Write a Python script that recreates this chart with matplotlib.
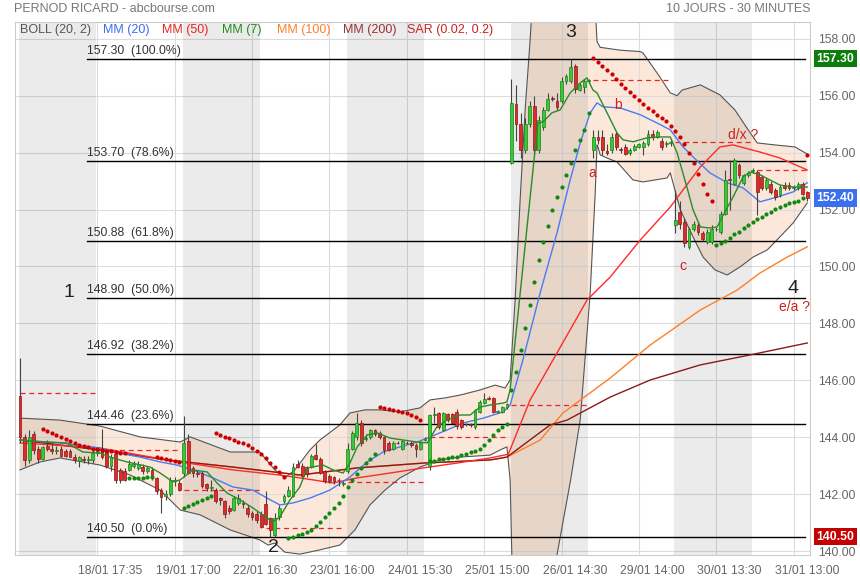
import numpy as np
import matplotlib.pyplot as plt
import matplotlib.transforms as mtransforms

plt.rcParams['font.family'] = ['Liberation Sans', 'DejaVu Sans']

# -------- bougies 30 minutes (18/01 -> 31/01) --------
opens = [145.45, 144.00, 143.20, 144.10, 143.60, 143.25, 143.70, 143.60, 143.50, 143.60, 143.50, 143.50, 143.30, 143.15, 143.25, 143.20, 143.20, 143.45,
         143.60, 143.55, 143.00, 143.40, 142.85, 142.80, 142.85, 143.00, 142.90, 142.95, 142.80, 142.85, 142.55, 142.15, 141.95, 142.00, 142.45, 142.40,
         142.75, 143.85, 142.90, 142.75, 142.75, 142.35, 142.20, 142.15, 141.85, 141.75, 141.50, 141.45, 141.70, 141.70, 141.50, 141.35, 141.30, 141.30,
         141.65, 141.15, 140.55, 141.20, 141.75, 141.95, 141.95, 143.05, 143.00, 142.95, 142.95, 143.38, 143.25, 142.80, 142.65, 142.60, 142.50, 142.35,
         142.80, 143.60, 144.00, 144.50, 143.95, 144.00, 144.25, 144.15, 144.00, 143.78, 143.60, 143.80, 143.60, 143.80, 143.78, 143.72, 143.60, 143.90,
         143.00, 144.78, 144.85, 144.25, 144.80, 144.80, 144.90, 144.60, 144.45, 144.43, 144.37, 144.90, 145.20, 145.36, 145.36, 144.90, 144.90, 145.05,
         153.65, 155.70, 155.00, 154.10, 155.00, 155.65, 154.08, 154.90, 155.50, 155.90, 155.80, 155.83, 156.50, 156.50, 157.06, 156.20, 156.30, 156.50,
         154.08, 154.55, 154.55, 154.05, 154.08, 154.66, 154.10, 154.20, 153.98, 154.10, 154.20, 154.20, 154.30, 154.66, 154.55, 154.40, 154.30, 154.35,
         151.45, 151.90, 151.57, 150.70, 151.33, 151.45, 151.16, 150.87, 150.87, 151.30, 151.22, 151.86, 153.09, 152.91, 153.56, 152.92, 153.20, 153.35,
         153.32, 153.15, 152.74, 152.91, 152.68, 152.50, 152.85, 152.85, 152.75, 152.74, 152.91, 152.60]
highs = [146.80, 144.10, 144.25, 144.20, 143.70, 143.70, 143.90, 143.80, 143.70, 143.70, 143.60, 143.60, 143.40, 143.35, 143.35, 143.35, 143.55, 143.60,
         144.30, 143.60, 143.40, 143.50, 142.90, 142.90, 143.20, 143.15, 143.15, 143.05, 143.00, 142.95, 142.60, 142.20, 142.15, 142.60, 142.60, 142.50,
         144.75, 144.10, 143.00, 142.85, 142.80, 142.40, 142.50, 142.20, 141.90, 141.80, 141.60, 141.95, 142.00, 141.80, 141.60, 141.40, 141.40, 141.40,
         142.10, 141.20, 141.35, 141.60, 142.00, 142.30, 143.10, 143.20, 143.10, 143.00, 143.40, 143.75, 143.30, 142.85, 142.70, 142.65, 142.55, 142.45,
         143.80, 144.20, 144.85, 144.60, 144.10, 144.30, 144.30, 144.20, 144.05, 143.85, 143.85, 143.85, 143.90, 143.85, 143.85, 143.80, 143.85, 144.00,
         144.80, 145.05, 144.90, 144.90, 144.85, 144.85, 145.00, 144.65, 144.50, 144.50, 145.00, 145.30, 145.55, 145.45, 145.40, 144.95, 145.10, 145.20,
         156.60, 156.36, 155.40, 155.20, 155.80, 156.00, 155.30, 155.60, 156.10, 156.00, 156.10, 156.65, 156.75, 157.30, 157.10, 156.45, 156.60, 156.60,
         154.80, 154.80, 154.80, 154.30, 154.70, 154.75, 154.20, 154.30, 154.15, 154.30, 154.35, 154.40, 154.80, 154.80, 154.80, 154.50, 154.40, 154.45,
         152.68, 152.30, 151.70, 151.40, 151.60, 151.55, 151.25, 151.30, 151.45, 151.40, 151.95, 153.40, 153.73, 153.80, 153.65, 153.25, 153.35, 153.45,
         153.38, 153.20, 153.10, 153.00, 152.75, 152.85, 152.95, 152.95, 152.85, 152.95, 152.95, 152.65]
lows = [143.80, 143.00, 143.10, 143.40, 143.10, 143.20, 143.50, 143.40, 143.40, 143.30, 143.30, 143.30, 143.10, 142.95, 143.10, 143.05, 143.10, 143.35,
        143.25, 142.90, 142.80, 142.40, 142.40, 142.45, 142.80, 142.90, 142.85, 142.70, 142.75, 142.50, 142.00, 141.35, 141.80, 141.95, 142.30, 142.10,
        142.60, 142.70, 142.60, 142.60, 142.20, 142.10, 142.10, 141.70, 141.60, 141.15, 141.30, 141.40, 141.60, 141.50, 141.20, 141.10, 141.00, 140.80,
        140.90, 140.50, 140.50, 141.10, 141.70, 141.90, 141.90, 142.90, 142.60, 142.60, 142.90, 143.20, 142.70, 142.40, 142.40, 142.35, 142.30, 142.30,
        142.75, 143.55, 143.90, 143.70, 143.85, 143.95, 144.05, 143.95, 143.40, 143.50, 143.55, 143.75, 143.55, 143.75, 143.65, 143.30, 143.55, 143.85,
        142.85, 144.50, 144.30, 144.20, 144.55, 144.45, 144.30, 144.30, 144.40, 144.35, 144.30, 144.85, 145.15, 145.30, 144.85, 144.85, 144.85, 145.00,
        153.60, 154.40, 153.80, 154.00, 154.90, 153.90, 154.00, 154.80, 155.45, 155.80, 155.50, 155.75, 156.40, 156.45, 156.10, 156.15, 156.10, 156.45,
        153.80, 154.30, 153.90, 153.90, 154.00, 154.10, 154.00, 153.90, 153.90, 154.05, 154.15, 153.90, 154.25, 154.45, 154.50, 154.10, 154.20, 154.25,
        151.16, 151.30, 150.70, 150.60, 151.25, 151.10, 150.90, 150.80, 150.80, 151.25, 151.15, 151.80, 151.98, 152.85, 153.10, 152.85, 153.15, 153.30,
        151.80, 152.70, 152.70, 152.55, 152.35, 152.45, 152.70, 152.70, 152.70, 152.70, 152.50, 152.30]
closes = [144.00, 143.20, 144.00, 143.55, 143.25, 143.65, 143.60, 143.50, 143.55, 143.35, 143.35, 143.30, 143.20, 143.30, 143.20, 143.25, 143.45, 143.50,
          143.30, 143.00, 143.30, 142.50, 142.50, 142.50, 143.05, 143.05, 143.05, 142.80, 142.90, 142.60, 142.10, 141.90, 142.00, 142.50, 142.45, 142.15,
          143.80, 142.75, 142.75, 142.70, 142.30, 142.20, 142.25, 141.75, 141.80, 141.30, 141.40, 141.85, 141.85, 141.65, 141.30, 141.20, 141.10, 140.85,
          140.95, 140.75, 141.15, 141.50, 141.95, 142.15, 142.95, 142.95, 142.65, 142.70, 143.35, 143.25, 142.75, 142.45, 142.45, 142.45, 142.48, 142.40,
          143.60, 144.15, 144.50, 143.80, 143.97, 144.25, 144.10, 144.00, 143.55, 143.55, 143.80, 143.78, 143.85, 143.78, 143.72, 143.60, 143.80, 143.95,
          144.78, 144.80, 144.35, 144.85, 144.60, 144.50, 144.40, 144.37, 144.45, 144.42, 144.95, 145.25, 145.35, 145.34, 144.90, 144.90, 145.07, 145.15,
          155.74, 155.00, 154.08, 155.00, 155.65, 154.08, 155.13, 155.50, 155.90, 155.88, 155.60, 156.53, 156.70, 157.00, 156.24, 156.38, 156.50, 156.55,
          154.55, 154.43, 154.08, 154.00, 154.55, 154.20, 154.08, 153.96, 154.10, 154.25, 154.30, 154.35, 154.66, 154.55, 154.72, 154.20, 154.30, 154.37,
          151.63, 151.50, 150.81, 151.33, 151.50, 151.21, 150.98, 151.22, 151.33, 151.33, 151.86, 153.03, 153.03, 153.73, 153.20, 153.20, 153.30, 153.38,
          152.62, 152.74, 153.03, 152.62, 152.45, 152.80, 152.74, 152.74, 152.78, 152.91, 152.56, 152.40]

# jours (indice de la 1re et de la derniere bougie) et cloture de la veille
day_first = [0, 18, 36, 54, 72, 90, 108, 126, 144, 162]
day_last = [17, 35, 53, 71, 89, 107, 125, 143, 161, 173]
prev_close = [145.55, 143.55, 142.14, 140.81, 142.43, 144.01, 145.13, 156.56, 154.38, 153.39]
shaded_days = [0, 2, 4, 6, 8]

tick_bars = [17, 34, 51, 68, 85, 102, 119, 136, 153, 170]
tick_labels = ['18/01 17:35', '19/01 17:00', '22/01 16:30', '23/01 16:00', '24/01 15:30',
               '25/01 15:00', '26/01 14:30', '29/01 14:00', '30/01 13:30', '31/01 13:00']

# -------- Bollinger (20, 2) --------
bb_up_x = [0, 8.8, 17.6, 26.4, 35.2, 37.4, 46.2, 52.7, 56.0, 58.2, 60.4, 63.7, 65.9, 70.3, 72.5, 75.8, 79.1, 83.5, 87.9, 90.1,
           93.4, 96.7, 101.1, 104.4, 106.6, 107.7, 108.8, 109.9, 111.0, 112.1, 113.2, 116.0, 120.0, 124.0, 126.0, 126.8, 127.5,
           131.9, 136.3, 136.9, 140.0, 142.9, 144.4, 145.5, 149.5, 153.8, 157.1, 159.3, 162.0, 165.9, 170.3, 173.0]
bb_up_y = [144.67, 144.60, 144.39, 144.01, 143.83, 144.01, 143.48, 143.48, 142.85, 142.57, 142.85, 143.55, 143.90, 144.43, 144.85,
           144.96, 144.96, 144.89, 145.03, 145.31, 145.38, 145.48, 145.66, 145.83, 145.73, 146.01, 148.82, 152.34, 155.50, 157.96,
           160.80, 163.50, 164.50, 163.00, 160.50, 157.90, 157.70, 157.60, 157.55, 157.50, 156.80, 156.10, 156.00, 156.20, 156.38,
           156.03, 155.50, 154.97, 154.34, 154.27, 154.20, 153.95]
bb_lo_x = [0, 4.4, 8.8, 17.6, 24.2, 30.8, 35.2, 39.6, 46.2, 52.7, 54.5, 56.0, 58.2, 61.5, 65.9, 70.3, 73.6, 76.9, 80.2, 83.5,
           87.9, 92.3, 96.7, 103.3, 105.5, 107.0, 107.7, 108.1, 110.0, 113.0, 116.0, 118.0, 121.0, 123.1, 125.3, 126.4, 126.8,
           127.0, 127.5, 129.0, 131.2, 134.7, 136.9, 142.2, 142.9, 145.1, 147.9, 150.1, 152.7, 155.4, 158.2, 161.1, 164.2, 167.0,
           169.9, 173.0]
bb_lo_y = [142.85, 143.13, 143.27, 143.02, 142.67, 142.14, 141.44, 141.27, 140.74, 140.39, 140.21, 140.28, 139.96, 139.89, 140.04,
           140.21, 140.74, 141.62, 142.14, 142.57, 142.95, 143.20, 143.30, 143.37, 143.55, 143.66, 142.50, 139.70, 136.50, 135.50,
           136.50, 139.86, 142.50, 144.60, 149.07, 152.58, 154.27, 154.20, 153.92, 153.81, 153.67, 153.04, 152.97, 153.11, 153.29,
           151.99, 151.04, 150.33, 149.88, 149.70, 149.98, 150.33, 150.58, 151.04, 151.53, 152.23]

# -------- moyennes mobiles --------
mm7_x = [0, 5.1, 10.3, 13.8, 17.6, 19.8, 23.5, 28.6, 30.8, 33.6, 35.2, 38.0, 41.1, 43.3, 45.5, 48.4, 51.2, 54.3, 55.6, 57.1,
         59.3, 61.5, 63.1, 66.6, 68.8, 71.0, 72.5, 74.1, 76.3, 78.5, 81.3, 84.2, 87.3, 89.5, 91.6, 93.8, 96.7, 98.9, 101.1, 103.3,
         106.2, 107.0, 107.7, 113.8, 114.9, 116.9, 118.7, 120.9, 123.1, 124.6, 125.9, 126.8, 129.0, 131.2, 132.5, 134.7, 137.8,
         140.7, 142.9, 144.4, 146.6, 147.9, 149.5, 151.6, 153.2, 154.3, 156.7, 158.9, 160.4, 162.6, 164.8, 167.0, 169.9, 173.0]
mm7_y = [143.90, 143.83, 143.80, 143.48, 143.44, 143.30, 143.13, 142.95, 142.74, 142.43, 142.50, 142.85, 142.78, 142.39, 142.04,
         141.79, 141.51, 141.16, 141.02, 141.20, 141.79, 142.25, 142.92, 143.02, 142.85, 142.74, 143.09, 143.66, 144.08, 144.15,
         143.97, 143.90, 143.83, 143.80, 144.36, 144.60, 144.78, 144.78, 145.06, 145.13, 145.20, 145.24, 145.66, 155.04, 155.08,
         155.40, 155.50, 156.10, 156.45, 156.63, 156.20, 156.10, 155.40, 154.69, 154.45, 154.38, 154.52, 154.55, 154.55, 153.99,
         152.76, 151.99, 151.39, 151.35, 151.39, 151.74, 152.44, 153.15, 153.32, 153.22, 153.04, 152.86, 152.79, 152.79]
mm20_x = [0, 8.8, 17.6, 20.4, 26.4, 30.8, 34.5, 38.0, 42.4, 46.8, 51.2, 54.3, 57.1, 60.0, 63.7, 68.1, 72.5, 76.3, 79.8, 83.5,
          87.3, 90.1, 93.8, 97.4, 101.8, 106.2, 107.7, 110.5, 114.3, 118.0, 120.9, 123.1, 125.3, 126.8, 128.1, 131.9, 136.3,
          140.0, 142.9, 145.7, 147.9, 151.6, 155.4, 158.9, 162.6, 166.4, 169.9, 173.0]
mm20_y = [143.90, 143.80, 143.62, 143.48, 143.30, 143.13, 143.02, 142.85, 142.57, 142.25, 142.14, 141.86, 141.62, 141.69, 141.86,
          142.14, 142.60, 143.13, 143.48, 143.66, 143.83, 144.01, 144.25, 144.50, 144.67, 144.89, 145.13, 146.71, 149.07, 151.18,
          153.04, 154.34, 155.40, 155.75, 155.61, 155.57, 155.33, 155.04, 154.80, 154.20, 153.85, 153.29, 152.94, 152.76, 152.27,
          152.44, 152.62, 152.94]
mm50_x = [0, 17.6, 32.3, 46.8, 57.1, 61.5, 68.8, 74.1, 81.3, 88.6, 96.0, 103.3, 107.3, 112.1, 118.0, 124.6, 129.7, 136.3,
          142.9, 149.5, 153.8, 156.7, 162.6, 167.0, 173.0]
mm50_y = [143.80, 143.62, 143.20, 142.85, 142.67, 142.57, 142.39, 142.57, 142.74, 142.92, 143.09, 143.27, 143.40, 145.31,
          146.96, 148.82, 149.63, 150.93, 152.09, 153.50, 154.20, 154.27, 154.02, 153.81, 153.39]
mm100_x = [0, 17.6, 32.3, 46.8, 61.5, 74.1, 88.6, 103.3, 107.0, 114.3, 119.3, 129.7, 138.5, 149.5, 157.6, 162.6, 168.6, 173.0]
mm100_y = [143.90, 143.55, 143.20, 142.95, 142.67, 142.92, 143.09, 143.20, 143.30, 143.90, 144.85, 146.08, 147.24, 148.47,
           149.17, 149.77, 150.33, 150.69]
mm200_x = [0, 17.6, 32.3, 46.8, 61.5, 74.1, 88.6, 103.3, 107.0, 116.5, 120.2, 129.7, 138.5, 149.5, 160.4, 173.0]
mm200_y = [143.90, 143.55, 143.20, 142.95, 142.67, 142.92, 143.09, 143.20, 143.30, 144.43, 144.60, 145.41, 146.01, 146.54,
           146.89, 147.31]

# -------- SAR (0.02, 0.2) --------
sar_red_x = (list(range(5, 24)) + list(range(30, 36)) + list(range(43, 59)) + list(range(79, 89))
             + list(range(126, 153)) + [173])
sar_red_y = [144.29, 144.22, 144.15, 144.08, 144.01, 143.94, 143.87, 143.80, 143.74, 143.69, 143.64, 143.60, 143.57, 143.55,
             143.52, 143.50, 143.48, 143.46, 143.45,
             143.30, 143.27, 143.23, 143.20, 143.16, 143.13,
             144.15, 144.08, 144.01, 143.97, 143.90, 143.83, 143.80, 143.73, 143.62, 143.51, 143.41, 143.27, 143.09, 142.95,
             142.78, 142.60,
             145.05, 145.03, 145.00, 144.96, 144.92, 144.89, 144.85, 144.78, 144.70, 144.60,
             157.31, 157.20, 157.05, 156.90, 156.75, 156.58, 156.42, 156.27, 156.12, 155.98, 155.84, 155.70, 155.58, 155.45,
             155.32, 155.22, 155.12, 154.95, 154.75, 154.55, 154.32, 153.98, 153.62, 153.25, 152.90, 152.55, 152.30,
             153.92]
sar_green_x = (list(range(24, 30)) + list(range(36, 43)) + list(range(59, 79)) + list(range(90, 126))
               + list(range(153, 173)))
sar_green_y = [142.55, 142.56, 142.57, 142.58, 142.59, 142.60,
               141.51, 141.58, 141.65, 141.72, 141.79, 141.86, 141.92,
               140.45, 140.50, 140.55, 140.60, 140.67, 140.75, 140.88, 141.02, 141.18, 141.35, 141.52, 141.70, 141.95,
               142.25, 142.50, 142.72, 142.92, 143.08, 143.25, 143.40,
               143.16, 143.17, 143.22, 143.24, 143.27, 143.29, 143.31, 143.36, 143.40, 143.48, 143.52, 143.59, 143.71,
               143.90, 144.08, 144.25, 144.36, 144.48,
               145.66, 146.29, 147.07, 147.84, 148.65, 149.46, 150.23, 150.86, 151.42, 151.99, 152.44, 152.79, 153.22,
               153.64, 154.09, 154.45, 154.80, 155.40,
               150.76, 150.82, 150.90, 151.01, 151.13, 151.22, 151.34, 151.46, 151.55, 151.67, 151.75, 151.84, 151.92,
               152.02, 152.08, 152.16, 152.22, 152.28, 152.31, 152.40]

# -------- Fibonacci --------
fib_levels = [157.30, 153.70, 150.88, 148.90, 146.92, 144.46, 140.50]
fib_pct = ['100.0%', '78.6%', '61.8%', '50.0%', '38.2%', '23.6%', '0.0%']

# -------- annotations (vagues) --------
wave_text = ['1', '2', '3', '4']
wave_x = [10.8, 55.8, 120.9, 169.9]
wave_y = [149.10, 140.11, 158.21, 149.24]
letter_text = ['a', 'b', 'c', 'd/x ?', 'e/a ?']
letter_x = [125.7, 131.4, 145.7, 158.9, 170.3]
letter_y = [153.29, 155.68, 150.02, 154.62, 148.58]

price_tags = [157.30, 152.40, 140.50]
price_tag_colors = ['#0b7d0b', '#3a6ff0', '#c40000']

# ================= figure =================
fig = plt.figure(figsize=(8.6, 5.8), dpi=100)
ax = fig.add_axes([15 / 860, 25 / 580, 795 / 860, 533 / 580])
ax.set_xlim(-1.1, 173.6)
ax.set_ylim(139.86, 158.59)

# fond : bandes grises un jour sur deux + grille
for d in shaded_days:
    ax.axvspan(day_first[d] - 0.2, day_last[d] - 0.2, color='black', alpha=0.08, lw=0, zorder=1.5)
yt = np.arange(140, 159, 2)
for v in yt:
    ax.axhline(v, color='#dcdcdc', lw=0.8, zorder=1.2)
for b in tick_bars:
    ax.axvline(b, color='#dcdcdc', lw=0.8, zorder=1.2)

# Bollinger
ax.fill(np.r_[bb_up_x, bb_lo_x[::-1]], np.r_[bb_up_y, bb_lo_y[::-1]],
        facecolor='#f7c9a8', alpha=0.42, lw=0, zorder=1)
ax.plot(bb_up_x, bb_up_y, color='#555555', lw=0.8, zorder=2)
ax.plot(bb_lo_x, bb_lo_y, color='#555555', lw=0.8, zorder=2)

# Fibonacci
for lev, pct in zip(fib_levels, fib_pct):
    ax.plot([14.7, 172.6], [lev, lev], color='black', lw=1.0, zorder=3)
    ax.annotate(f'{lev:.2f}  ({pct})', (14.7, lev), xytext=(0, 1.5), textcoords='offset points',
                fontsize=8.8, color='#333333', va='bottom', ha='left', zorder=3)

# cloture veille
for d in range(len(day_first)):
    ax.hlines(prev_close[d], day_first[d], day_last[d], colors='#ee2222', lw=0.9,
              linestyles=(0, (4, 3)), zorder=3)

# moyennes mobiles
ax.plot(mm100_x, mm100_y, color='#ff7f27', lw=1.0, zorder=3.1)
ax.plot(mm200_x, mm200_y, color='#8b1a1a', lw=1.0, zorder=3.2)
ax.plot(mm50_x, mm50_y, color='#ff2a2a', lw=1.0, zorder=3.3)
ax.plot(mm20_x, mm20_y, color='#4a7cf0', lw=1.0, zorder=3.4)

# bougies
x = np.arange(len(closes))
o = np.array(opens)
c = np.array(closes)
up = c >= o
ax.vlines(x, lows, highs, color='#444444', lw=0.8, zorder=4)
body = np.maximum(np.abs(c - o), 0.03)
ax.bar(x[up], body[up], bottom=o[up], width=0.62, color='#33cc33', edgecolor='#1d7f1d', lw=0.5, zorder=4.2)
ax.bar(x[~up], body[~up], bottom=c[~up], width=0.62, color='#dd2c2c', edgecolor='#8e1515', lw=0.5, zorder=4.2)

ax.plot(mm7_x, mm7_y, color='#2a8a2a', lw=1.0, zorder=4.5)

# SAR
ax.scatter(sar_red_x, sar_red_y, s=9, color='#cc0000', lw=0, zorder=5)
ax.scatter(sar_green_x, sar_green_y, s=9, color='#118811', lw=0, zorder=5)

# vagues
for t, px, py in zip(wave_text, wave_x, wave_y):
    ax.text(px, py, t, fontsize=14, color='#222222', ha='center', va='center', zorder=6)
for t, px, py in zip(letter_text, letter_x, letter_y):
    ax.text(px, py, t, fontsize=10, color='#cc2222', ha='center', va='center', zorder=6)

# axes
for s in ax.spines.values():
    s.set_color('#cccccc')
ax.yaxis.tick_right()
ax.set_yticks(yt)
ax.set_yticklabels([f'{v:.2f}' for v in yt])
ax.set_xticks([b + 2.9 for b in tick_bars])
ax.set_xticklabels(tick_labels)
ax.tick_params(length=0, labelsize=8.8, labelcolor='#666666')
ax.tick_params(axis='x', pad=7)
ax.tick_params(axis='y', pad=6)

trans = mtransforms.blended_transform_factory(ax.transAxes, ax.transData)
for v, col in zip(price_tags, price_tag_colors):
    ax.text(1.008, v, f'{v:.2f}', transform=trans, fontsize=8.8, fontweight='bold', color='white',
            ha='left', va='center', zorder=7,
            bbox=dict(boxstyle='square,pad=0.22', fc=col, ec='none'))

# legende en haut
leg_text = ['BOLL (20, 2)', 'MM (20)', 'MM (50)', 'MM (7)', 'MM (100)', 'MM (200)', 'SAR (0.02, 0.2)']
leg_px = [20, 103, 162, 222, 277, 343, 407]
leg_col = ['#555555', '#3a6ff0', '#ee2222', '#228b22', '#ff7f27', '#993333', '#cc2222']
for t, px, col in zip(leg_text, leg_px, leg_col):
    ax.text((px - 15) / 795, 1 - 8 / 533, t, transform=ax.transAxes, fontsize=9, color=col,
            ha='left', va='center', zorder=7)

fig.text(14 / 860, 1 - 9 / 580, 'PERNOD RICARD - abcbourse.com', fontsize=9, color='#777777', va='center')
fig.text(810 / 860, 1 - 9 / 580, '10 JOURS - 30 MINUTES', fontsize=9, color='#777777', va='center', ha='right')

fig.savefig('out.png', dpi=100)
